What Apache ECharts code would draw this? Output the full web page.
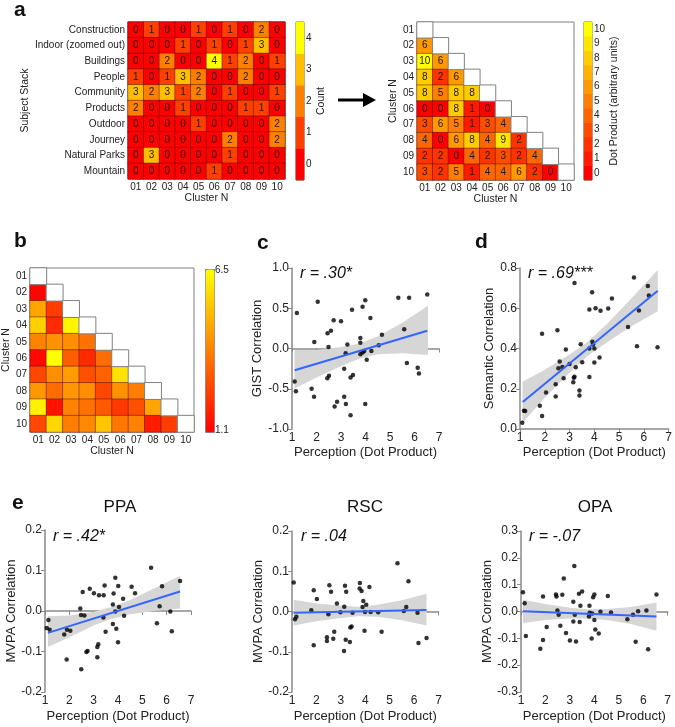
<!DOCTYPE html>
<html><head><meta charset="utf-8">
<script src="https://cdn.jsdelivr.net/npm/echarts@6/dist/echarts.min.js"></script>
<style>html,body{margin:0;padding:0;background:#fff}#c{width:675px;height:727px}</style>
</head><body><div id="c"></div>
<script>
// ---------- DATA ----------
const clusters = ['01','02','03','04','05','06','07','08','09','10'];
const subjects = ['Construction','Indoor (zoomed out)','Buildings','People','Community','Products','Outdoor','Journey','Natural Parks','Mountain'];
const countMatrix = [
  [0,1,0,0,1,0,1,0,2,0],
  [0,0,0,1,0,1,0,1,3,0],
  [0,0,2,0,0,4,1,2,0,1],
  [1,0,1,3,2,0,0,2,0,0],
  [3,2,3,1,2,0,1,0,0,1],
  [2,0,0,1,0,0,0,1,1,0],
  [0,0,0,0,1,0,0,0,0,2],
  [0,0,0,0,0,0,2,0,0,2],
  [0,3,0,0,0,0,1,0,0,0],
  [0,0,0,0,0,1,0,0,0,0]
];
const countTicks = ['0','1','2','3','4'];
// lower triangle, rows 02..10
const dotRows = [
  [6],
  [10,6],
  [8,2,6],
  [8,5,8,8],
  [0,0,8,1,0],
  [3,6,5,1,3,4],
  [4,0,6,8,4,9,2],
  [2,2,0,4,2,3,2,4],
  [3,2,5,1,4,4,6,2,0]
];
const dotTicks = ['0','1','2','3','4','5','6','7','8','9','10'];
const percRows = [
  [1.2],
  [4.6,2.4],
  [5.5,2.0,6.3],
  [3.85,4.2,4.1,3.5],
  [1.3,6.5,3.1,2.0,3.4],
  [2.6,4.1,4.4,2.8,3.2,5.9],
  [4.3,3.4,4.3,4.1,2.6,4.2,3.75],
  [6.2,1.5,3.85,3.5,3.0,2.3,2.8,4.6],
  [2.6,5.65,3.75,4.0,5.3,3.6,3.85,1.7,2.4]
];
const percRange = [1.1, 6.5];

const gistPoints = [[1.20,0.44],[2.05,0.58],[1.91,0.08],[2.45,0.19],[2.59,0.22],[2.70,0.35],[3.00,0.34],[2.49,0.02],[3.45,0.48],[3.88,0.52],[3.99,0.60],[4.20,0.38],[3.26,0.05],[3.79,0.13],[3.79,0.07],[3.19,-0.06],[3.79,-0.07],[3.88,-0.05],[3.95,-0.03],[4.05,-0.14],[4.24,-0.03],[4.54,0.04],[4.67,0.17],[5.34,0.63],[5.78,0.63],[6.52,0.67],[5.58,0.24],[5.69,-0.18],[6.13,-0.24],[6.18,-0.31],[3.13,-0.25],[2.44,-0.37],[2.51,-0.34],[3.39,-0.36],[3.49,-0.33],[1.11,-0.41],[1.16,-0.53],[1.80,-0.50],[1.90,-0.60],[3.13,-0.60],[3.20,-0.69],[2.84,-0.66],[2.74,-0.72],[3.99,-0.69],[3.39,-0.83]];
const gistFit = [[1.11,-0.27],[6.52,0.22]];
const gistBandX = [1.1,2,3,3.7,4.5,5.5,6.55];
const gistBandLo = [-0.50,-0.36,-0.22,-0.13,-0.07,-0.06,-0.08];
const gistBandHi = [-0.02,-0.02,0.02,0.06,0.15,0.32,0.53];

const semPoints = [[3.20,0.725],[5.60,0.753],[6.16,0.711],[6.20,0.663],[3.91,0.680],[4.71,0.648],[3.80,0.594],[4.05,0.600],[4.25,0.587],[4.56,0.599],[5.80,0.589],[5.36,0.507],[1.89,0.473],[2.51,0.491],[3.45,0.421],[3.92,0.433],[3.95,0.420],[3.80,0.400],[4.00,0.400],[2.85,0.395],[5.72,0.411],[6.55,0.406],[2.60,0.335],[3.00,0.323],[3.51,0.332],[4.00,0.330],[4.21,0.355],[2.55,0.302],[2.71,0.308],[3.25,0.307],[2.76,0.252],[3.17,0.255],[3.20,0.260],[3.15,0.232],[3.80,0.259],[2.44,0.222],[3.40,0.191],[3.40,0.167],[2.05,0.181],[2.44,0.161],[1.80,0.116],[1.89,0.065],[1.16,0.091],[1.21,0.090],[1.09,0.031]];
const semFit = [[1.11,0.134],[6.56,0.687]];
const semBandX = [1.1,2,3,3.7,4.5,5.5,6.56];
const semBandLo = [0.03,0.155,0.28,0.36,0.43,0.51,0.585];
const semBandHi = [0.235,0.295,0.37,0.43,0.52,0.65,0.79];

const ppaPoints = [[5.36,0.107],[6.55,0.074],[5.81,0.061],[3.89,0.082],[3.45,0.063],[4.01,0.062],[4.56,0.060],[2.84,0.055],[2.55,0.047],[3.01,0.044],[3.22,0.039],[3.41,0.039],[4.70,0.044],[3.82,0.043],[4.21,0.030],[3.79,0.016],[4.04,0.010],[5.71,0.012],[2.45,0.006],[3.89,-0.001],[6.15,-0.001],[2.48,-0.010],[2.62,-0.011],[4.25,-0.012],[3.40,-0.016],[1.14,-0.022],[5.60,-0.030],[3.79,-0.032],[1.07,-0.042],[1.19,-0.046],[1.90,-0.046],[2.04,-0.049],[3.93,-0.044],[3.49,-0.051],[6.21,-0.050],[1.79,-0.058],[4.00,-0.077],[3.19,-0.082],[3.15,-0.089],[2.75,-0.099],[2.70,-0.101],[1.89,-0.120],[3.15,-0.114],[2.49,-0.144]];
const ppaFit = [[1.12,-0.054],[6.55,0.048]];
const ppaBandX = [1.12,2,3,3.7,4.5,5.5,6.55];
const ppaBandLo = [-0.089,-0.065,-0.036,-0.020,-0.008,0.000,0.006];
const ppaBandHi = [-0.013,-0.011,-0.002,0.009,0.027,0.056,0.087];

const rscPoints = [[5.32,0.120],[1.07,0.072],[3.78,0.071],[5.77,0.075],[2.53,0.065],[3.17,0.064],[3.77,0.057],[4.17,0.061],[3.85,0.051],[1.89,0.053],[2.60,0.049],[3.22,0.049],[2.02,0.031],[3.92,0.026],[2.84,0.020],[4.04,0.017],[3.14,0.012],[3.89,0.011],[5.68,0.011],[1.79,0.003],[2.98,-0.002],[3.99,-0.001],[4.22,-0.001],[3.48,-0.003],[4.53,-0.002],[5.58,0.001],[6.14,-0.003],[2.49,-0.007],[1.18,-0.013],[1.12,-0.019],[3.44,-0.037],[3.39,-0.040],[2.73,-0.050],[3.97,-0.048],[4.67,-0.050],[2.43,-0.064],[2.43,-0.073],[2.69,-0.068],[3.20,-0.070],[3.37,-0.076],[6.18,-0.078],[6.51,-0.066],[1.89,-0.084],[3.13,-0.098]];
const rscFit = [[1.07,-0.003],[6.51,0.004]];
const rscBandX = [1.07,2,3,3.7,4.5,5.5,6.51];
const rscBandLo = [-0.035,-0.024,-0.016,-0.012,-0.013,-0.022,-0.035];
const rscBandHi = [0.029,0.020,0.015,0.012,0.017,0.028,0.044];

const opaPoints = [[3.18,0.170],[2.75,0.123],[1.08,0.072],[6.54,0.063],[1.90,0.056],[2.43,0.063],[2.45,0.056],[2.69,0.062],[3.37,0.066],[3.50,0.075],[4.00,0.063],[3.95,0.053],[4.55,0.058],[1.15,0.031],[3.14,0.036],[3.43,0.021],[3.80,0.021],[2.49,0.004],[4.25,-0.001],[4.68,-0.004],[5.79,0.001],[6.13,0.004],[3.81,-0.005],[3.91,-0.007],[2.54,-0.012],[3.20,-0.012],[3.78,-0.019],[5.58,-0.012],[5.35,-0.029],[4.00,-0.032],[3.14,-0.037],[3.40,-0.039],[2.61,-0.053],[2.05,-0.058],[4.04,-0.067],[2.84,-0.080],[4.18,-0.082],[1.20,-0.091],[3.89,-0.101],[1.90,-0.106],[3.00,-0.108],[3.25,-0.112],[5.69,-0.113],[1.79,-0.139],[6.20,-0.141]];
const opaFit = [[1.08,0.001],[6.54,-0.019]];
const opaBandX = [1.08,2,3,3.7,4.5,5.5,6.54];
const opaBandLo = [-0.044,-0.032,-0.026,-0.026,-0.032,-0.047,-0.072];
const opaBandHi = [0.044,0.028,0.014,0.008,0.009,0.017,0.034];

// ---------- BUILD ----------
const FONT = 'Liberation Sans';
const autumn = f => `rgb(255,${Math.round(255*f)},0)`;
const grids = [], xAxes = [], yAxes = [], series = [];

function heatAxes(gi, yCats, yName, yGap, xName) {
  xAxes.push({type:'category', gridIndex:gi, data:clusters, position:'bottom',
    axisLine:{show:false}, axisTick:{show:false}, splitLine:{show:false},
    axisLabel:{fontSize:10, color:'#222', margin:3, fontFamily:FONT},
    name:xName, nameLocation:'middle', nameGap:12, nameTextStyle:{fontSize:10.5, color:'#222', fontFamily:FONT}});
  yAxes.push({type:'category', gridIndex:gi, data:yCats, inverse:true,
    axisLine:{show:false}, axisTick:{show:false}, splitLine:{show:false},
    axisLabel:{fontSize:10, color:'#222', margin:3, fontFamily:FONT},
    name:yName, nameLocation:'middle', nameGap:yGap, nameRotate:90, nameTextStyle:{fontSize:10.5, color:'#222', fontFamily:FONT}});
}
function barAxes(gi, ticks, name, gap) {
  xAxes.push({type:'category', gridIndex:gi, data:[''], show:false});
  yAxes.push({type:'category', gridIndex:gi, data:ticks, position:'right',
    axisLine:{show:false}, axisTick:{show:false}, splitLine:{show:false},
    axisLabel:{fontSize:10, color:'#222', margin:2, fontFamily:FONT},
    name:name, nameLocation:'middle', nameGap:gap, nameRotate:90, nameTextStyle:{fontSize:10.5, color:'#222', fontFamily:FONT}});
}
const cellStyle = {borderColor:'rgba(70,0,0,0.55)', borderWidth:0.8};
const diagStyle = {color:'#ffffff', borderColor:'#808080', borderWidth:1};

// grid 0: a-left
grids.push({left:128, top:22, width:157, height:157, show:true, borderColor:'#555', borderWidth:1});
heatAxes(0, subjects, 'Subject Stack', 97, 'Cluster N');
const countData = [];
countMatrix.forEach((row, r) => row.forEach((v, c) => countData.push([c, r, v])));
series.push({type:'heatmap', xAxisIndex:0, yAxisIndex:0, data:countData, itemStyle:cellStyle,
  label:{show:true, fontSize:10, color:'#1a1a1a', fontFamily:FONT, formatter:p=>p.value[2]}, emphasis:{disabled:true}}); // 0
// grid 1: a-left colorbar
grids.push({left:296, top:22, width:8, height:158, show:true, borderColor:'#555', borderWidth:1});
barAxes(1, countTicks, 'Count', 6);
series.push({type:'heatmap', xAxisIndex:1, yAxisIndex:1, data:countTicks.map((t,i)=>[0,i,+t]), emphasis:{disabled:true}}); // 1
// grid 2: a-right
grids.push({left:417, top:22, width:157, height:158, show:true, borderColor:'#808080', borderWidth:1});
heatAxes(2, clusters, 'Cluster N', 10, 'Cluster N');
const dotData = [];
dotRows.forEach((row, r) => row.forEach((v, c) => dotData.push([c, r+1, v])));
series.push({type:'heatmap', xAxisIndex:2, yAxisIndex:2, data:dotData, itemStyle:cellStyle,
  label:{show:true, fontSize:10, color:'#1a1a1a', fontFamily:FONT, formatter:p=>p.value[2]}, emphasis:{disabled:true}}); // 2
series.push({type:'heatmap', xAxisIndex:2, yAxisIndex:2, data:clusters.map((c,i)=>[i,i,0]), itemStyle:diagStyle, emphasis:{disabled:true}}); // 3
// grid 3: a-right colorbar
grids.push({left:584, top:22, width:8, height:158, show:true, borderColor:'#555', borderWidth:1});
barAxes(3, dotTicks, 'Dot Product (arbitrary units)', 15);
series.push({type:'heatmap', xAxisIndex:3, yAxisIndex:3, data:dotTicks.map((t,i)=>[0,i,+t]), emphasis:{disabled:true}}); // 4
// grid 4: b
grids.push({left:28, top:268, width:166, height:164, show:true, borderColor:'#808080', borderWidth:1});
heatAxes(4, clusters, 'Cluster N', 13, 'Cluster N');
xAxes[4].nameGap = 13;
const percData = [];
percRows.forEach((row, r) => row.forEach((v, c) => percData.push([c, r+1, v])));
series.push({type:'heatmap', xAxisIndex:4, yAxisIndex:4, data:percData, itemStyle:cellStyle, emphasis:{disabled:true}}); // 5
series.push({type:'heatmap', xAxisIndex:4, yAxisIndex:4, data:clusters.map((c,i)=>[i,i,0]), itemStyle:diagStyle, emphasis:{disabled:true}}); // 6

// scatter panels
function scatterPanel(g, yMin, yMax, yInt, yName, yGap, xGap, pts, fit, bx, blo, bhi) {
  const gi = grids.length;
  grids.push(Object.assign({show:false}, g));
  xAxes.push({type:'value', gridIndex:gi, min:1, max:7, interval:1,
    axisLine:{show:true, lineStyle:{color:'#8a8a8a', width:1.5}},
    axisTick:{show:true, length:4, lineStyle:{color:'#8a8a8a'}},
    splitLine:{show:false},
    axisLabel:{fontSize:12, color:'#222', margin:3, fontFamily:FONT},
    name:'Perception (Dot Product)', nameLocation:'middle', nameGap:xGap,
    nameTextStyle:{fontSize:13, color:'#222', fontFamily:FONT}});
  yAxes.push({type:'value', gridIndex:gi, min:yMin, max:yMax, interval:yInt,
    axisLine:{show:true, lineStyle:{color:'#8a8a8a', width:1.5}},
    axisTick:{show:true, length:4, lineStyle:{color:'#8a8a8a'}},
    splitLine:{show:false},
    axisLabel:{fontSize:12, color:'#222', margin:3, fontFamily:FONT, formatter:v=>v.toFixed(1)},
    name:yName, nameLocation:'middle', nameGap:yGap, nameRotate:90,
    nameTextStyle:{fontSize:13, color:'#222', fontFamily:FONT}});
  series.push({type:'custom', xAxisIndex:gi, yAxisIndex:gi, silent:true, z:1,
    data: bx.map((x,i)=>[x, blo[i], bhi[i]]), encode:{x:0, y:[1,2]},
    renderItem:(params, api) => {
      if (params.dataIndex !== 0) return null;
      const poly = [];
      for (let i = 0; i < bx.length; i++) poly.push(api.coord([bx[i], bhi[i]]));
      for (let i = bx.length - 1; i >= 0; i--) poly.push(api.coord([bx[i], blo[i]]));
      return {type:'polygon', shape:{points:poly}, style:{fill:'#d6d6d6'}};
    }});
  series.push({type:'scatter', xAxisIndex:gi, yAxisIndex:gi, data:pts, symbolSize:4.5,
    itemStyle:{color:'#000'}, z:3, silent:true});
  series.push({type:'line', xAxisIndex:gi, yAxisIndex:gi, data:fit, symbol:'none', z:4,
    lineStyle:{color:'#3366ff', width:2}, silent:true});
}
scatterPanel({left:292, top:268, width:147, height:161}, -1, 1, 0.5, 'GIST Correlation', 28, 17,
  gistPoints, gistFit, gistBandX, gistBandLo, gistBandHi);
scatterPanel({left:520, top:268, width:150, height:161}, 0, 0.8, 0.2, 'Semantic Correlation', 24, 17,
  semPoints, semFit, semBandX, semBandLo, semBandHi);
scatterPanel({left:45, top:530, width:146, height:162}, -0.2, 0.2, 0.1, 'MVPA Correlation', 26, 18,
  ppaPoints, ppaFit, ppaBandX, ppaBandLo, ppaBandHi);
scatterPanel({left:292, top:531, width:146.5, height:161}, -0.2, 0.2, 0.1, 'MVPA Correlation', 27, 18,
  rscPoints, rscFit, rscBandX, rscBandLo, rscBandHi);
scatterPanel({left:521, top:531, width:146.7, height:161}, -0.3, 0.3, 0.1, 'MVPA Correlation', 27, 18,
  opaPoints, opaFit, opaBandX, opaBandLo, opaBandHi);

const visualMap = [
  {type:'piecewise', show:false, seriesIndex:[0,1], dimension:2,
   pieces: countTicks.map(t=>({value:+t, color:autumn(+t/4)}))},
  {type:'piecewise', show:false, seriesIndex:[2,4], dimension:2,
   pieces: dotTicks.map(t=>({value:+t, color:autumn(+t/10)}))},
  {type:'continuous', show:true, seriesIndex:[5], dimension:2, min:percRange[0], max:percRange[1],
   inRange:{color:['#ff0000','#ffff00']}, left:205, top:269, itemWidth:9, itemHeight:163,
   calculable:false, hoverLink:false, padding:0, borderColor:'#808080', borderWidth:1}
];

function txt(x, y, text, size, extra) {
  return {type:'text', x, y, silent:true, style:Object.assign({text, fontSize:size, fontFamily:FONT, fill:'#111',
    align:'left', verticalAlign:'middle'}, extra || {})};
}
const graphic = [
  txt(14, 10, 'a', 21, {fontWeight:'bold'}),
  txt(14, 241, 'b', 21, {fontWeight:'bold'}),
  txt(257, 243, 'c', 21, {fontWeight:'bold'}),
  txt(475, 242, 'd', 21, {fontWeight:'bold'}),
  txt(12, 503, 'e', 21, {fontWeight:'bold'}),
  txt(215, 270, percRange[1].toFixed(1), 10, {fill:'#222'}),
  txt(215, 430, percRange[0].toFixed(1), 10, {fill:'#222'}),
  txt(300, 274, 'r = .30*', 16, {fontStyle:'italic'}),
  txt(528, 274, 'r = .69***', 16, {fontStyle:'italic'}),
  txt(53, 537, 'r = .42*', 16, {fontStyle:'italic'}),
  txt(301, 537, 'r = .04', 16, {fontStyle:'italic'}),
  txt(529, 537, 'r = -.07', 16, {fontStyle:'italic'}),
  txt(120, 507, 'PPA', 17, {align:'center'}),
  txt(365, 507, 'RSC', 17, {align:'center'}),
  txt(595, 507, 'OPA', 17, {align:'center'}),
  {type:'line', silent:true, shape:{x1:338, y1:100, x2:368, y2:100}, style:{stroke:'#000', lineWidth:3}},
  {type:'polygon', silent:true, shape:{points:[[363,93],[376,100],[363,107]]}, style:{fill:'#000'}}
];

const chart = echarts.init(document.getElementById('c'), null, {renderer:'canvas'});
chart.setOption({
  animation:false,
  backgroundColor:'#fff',
  textStyle:{fontFamily:FONT},
  grid:grids, xAxis:xAxes, yAxis:yAxes, visualMap, series, graphic
});
</script></body></html>
